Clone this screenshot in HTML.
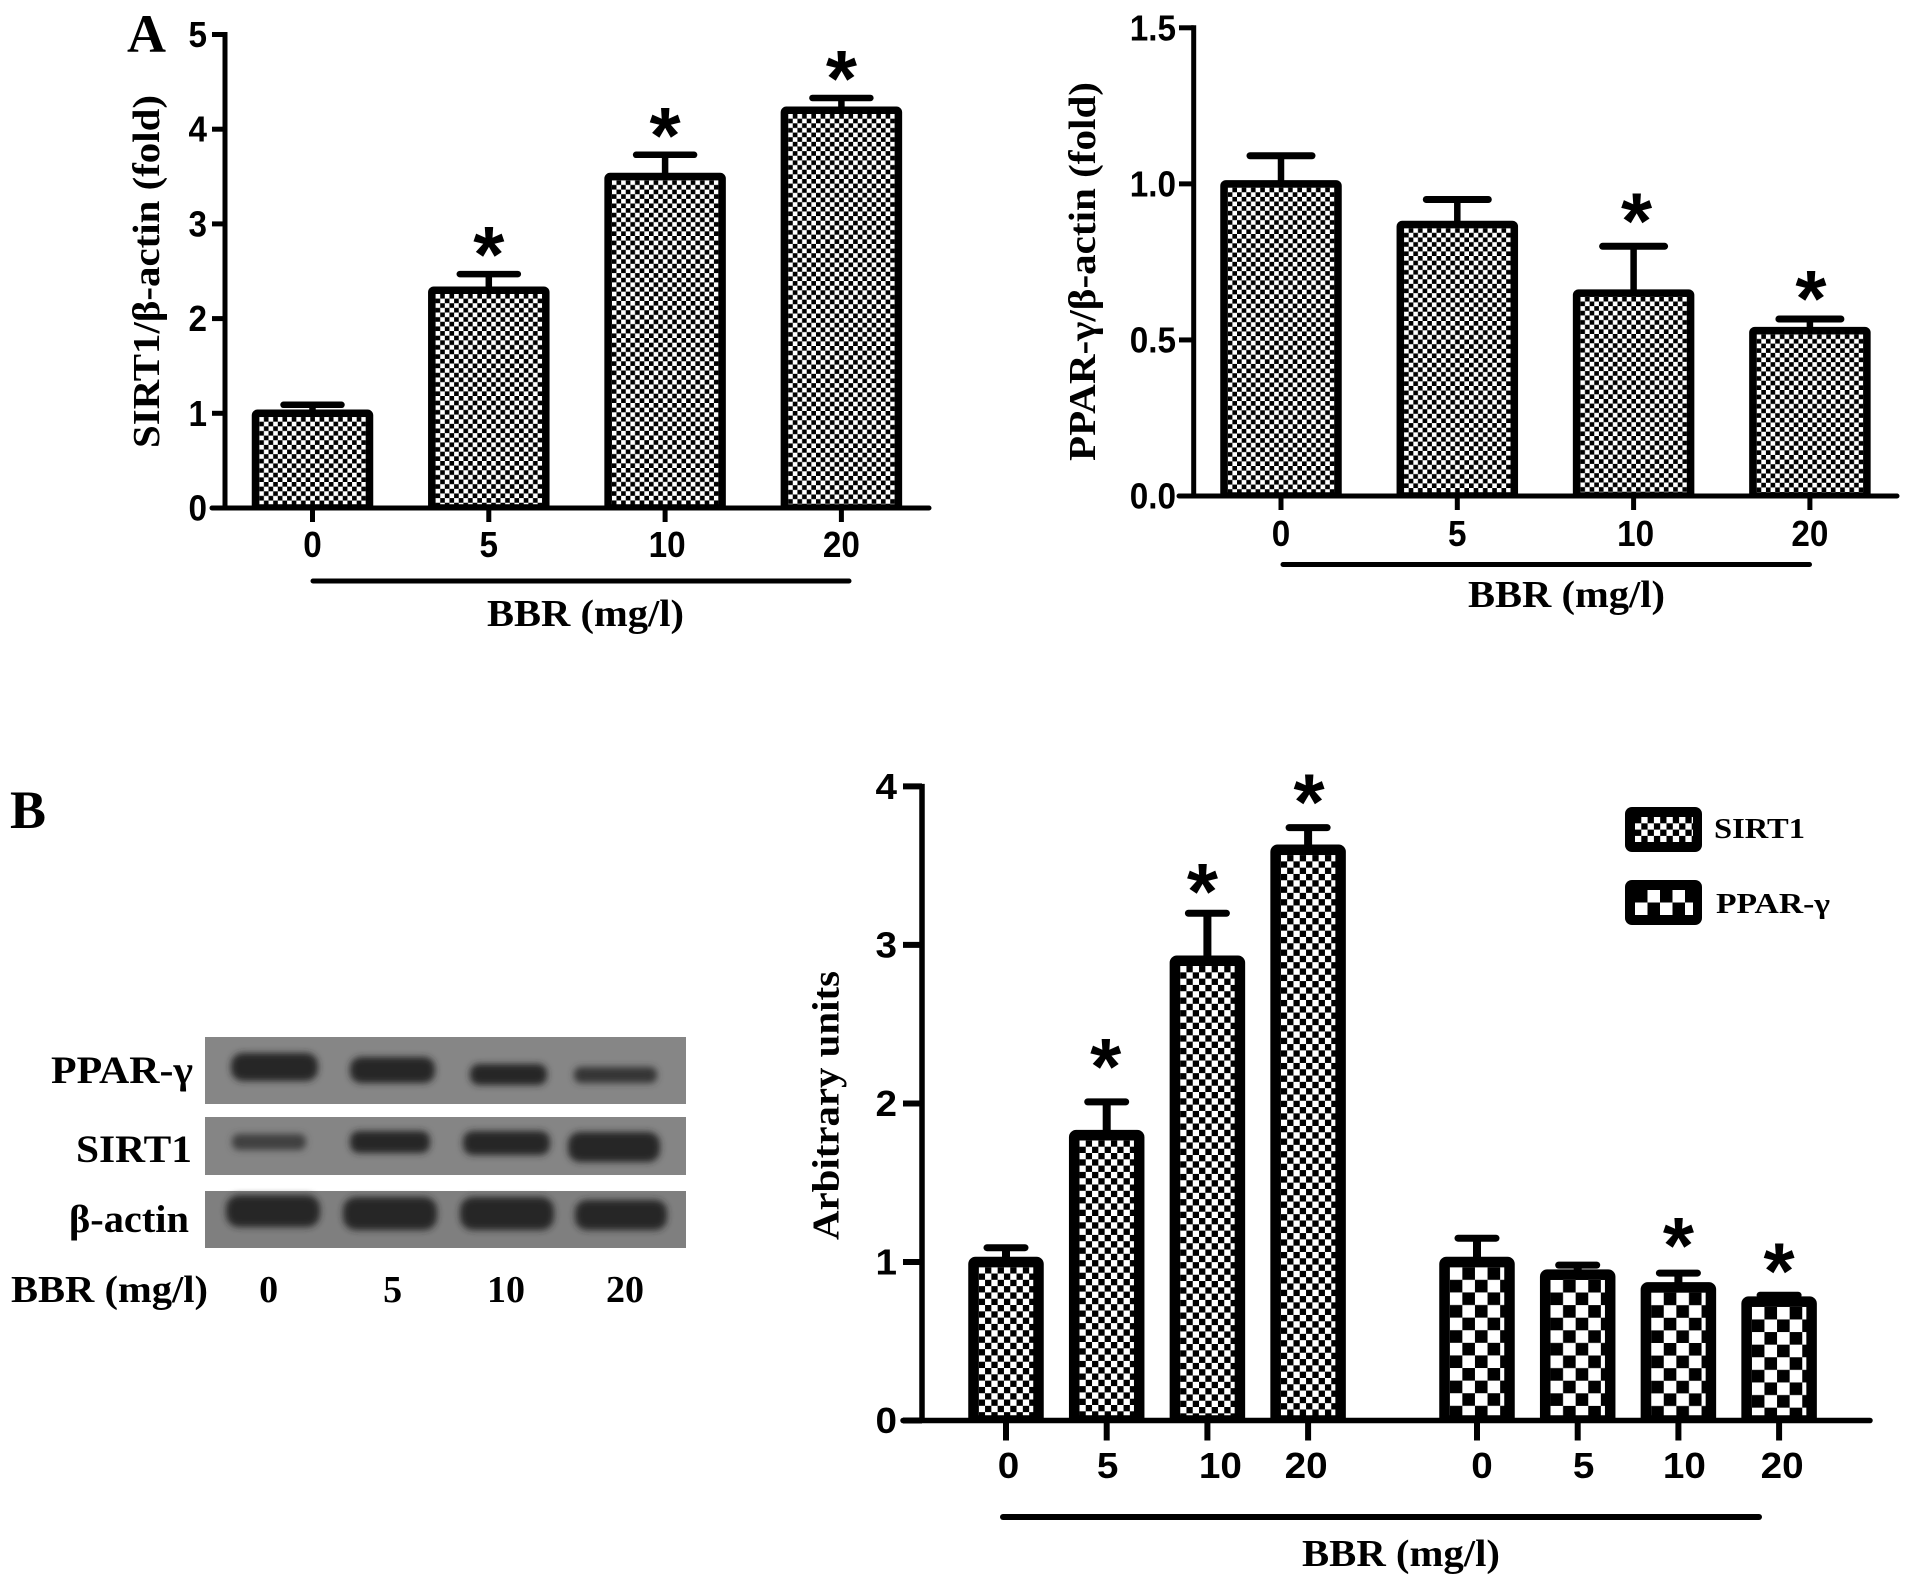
<!DOCTYPE html>
<html lang="en">
<head>
<meta charset="utf-8">
<title>SIRT1 and PPAR-γ expression after BBR treatment</title>
<style>
html,body{margin:0;padding:0;background:#fff;}
svg{display:block;}
.serif{font-family:"Liberation Serif","Noto Serif CJK SC",serif;font-weight:bold;fill:#000;}
.sans{font-family:"Liberation Sans","DejaVu Sans",sans-serif;font-weight:bold;fill:#000;}
</style>
</head>
<body>
<svg id="figure" xmlns="http://www.w3.org/2000/svg" width="1913" height="1588" viewBox="0 0 1913 1588">
  <defs id="figure-defs">
    <filter id="band-blur" x="-30%" y="-60%" width="160%" height="220%"><feGaussianBlur stdDeviation="3.4"/></filter>
    <pattern id="legend-fine" patternUnits="userSpaceOnUse" x="1635" y="817" width="12.6" height="12.6">
      <rect width="12.6" height="12.6" fill="#fff"/>
      <rect width="6.3" height="6.3" fill="#000"/>
      <rect x="6.3" y="6.3" width="6.3" height="6.3" fill="#000"/>
    </pattern>
    <pattern id="legend-coarse" patternUnits="userSpaceOnUse" x="1635" y="890" width="25" height="25">
      <rect width="25" height="25" fill="#fff"/>
      <rect width="12.5" height="12.5" fill="#000"/>
      <rect x="12.5" y="12.5" width="12.5" height="12.5" fill="#000"/>
    </pattern>
  </defs>

  <text class="serif" x="127" y="52" font-size="54">A</text>
  <text class="serif" x="10" y="828" font-size="54">B</text>

  <text class="serif" transform="translate(159,271.5) rotate(-90)" text-anchor="middle" font-size="38" textLength="353" lengthAdjust="spacingAndGlyphs">SIRT1/β-actin (fold)</text>
  <text class="serif" x="487" y="626" font-size="38" textLength="197" lengthAdjust="spacingAndGlyphs">BBR (mg/l)</text>

  <text class="serif" transform="translate(1095,271.5) rotate(-90)" text-anchor="middle" font-size="38" textLength="379" lengthAdjust="spacingAndGlyphs">PPAR-γ/β-actin (fold)</text>
  <text class="serif" x="1468" y="607" font-size="38" textLength="197" lengthAdjust="spacingAndGlyphs">BBR (mg/l)</text>

  <text class="serif" transform="translate(838.5,1105.5) rotate(-90)" text-anchor="middle" font-size="38" textLength="269" lengthAdjust="spacingAndGlyphs">Arbitrary units</text>
  <text class="serif" x="1302" y="1566" font-size="38" textLength="198" lengthAdjust="spacingAndGlyphs">BBR (mg/l)</text>

  <g>
    <g>
      <rect x="1625" y="807" width="77" height="45" rx="7" fill="#000"/>
      <rect x="1635" y="817" width="58" height="25" fill="url(#legend-fine)"/>
      <text class="serif" x="1714" y="838" font-size="29" textLength="91" lengthAdjust="spacingAndGlyphs">SIRT1</text>
    </g>
    <g>
      <rect x="1625" y="880" width="77" height="45" rx="7" fill="#000"/>
      <rect x="1635" y="890" width="58" height="25" fill="url(#legend-coarse)"/>
      <text class="serif" x="1716" y="913" font-size="29" textLength="114" lengthAdjust="spacingAndGlyphs">PPAR-γ</text>
    </g>
  </g>

  <g>
    <rect x="205" y="1037" width="481" height="67" fill="#868686"/>
    <rect x="205" y="1117" width="481" height="58" fill="#858585"/>
    <rect x="205" y="1191" width="481" height="57" fill="#7f7f7f"/>
    <g filter="url(#band-blur)" fill="#262626">
      <rect x="231" y="1053" width="87" height="28" rx="12"/>
      <rect x="350" y="1057" width="85" height="26" rx="11"/>
      <rect x="470" y="1064" width="77" height="21" rx="9"/>
      <rect x="574" y="1067" width="83" height="16" rx="7" fill="#363636"/>
      <rect x="232" y="1134" width="74" height="16" rx="7" fill="#3f3f3f"/>
      <rect x="350" y="1131" width="80" height="22" rx="9"/>
      <rect x="463" y="1131" width="87" height="24" rx="10"/>
      <rect x="568" y="1132" width="92" height="30" rx="12"/>
      <rect x="226" y="1195" width="94" height="32" rx="13"/>
      <rect x="343" y="1197" width="94" height="33" rx="13"/>
      <rect x="460" y="1197" width="94" height="33" rx="13"/>
      <rect x="575" y="1200" width="92" height="30" rx="12"/>
    </g>
    <text class="serif" x="51" y="1083" font-size="39" textLength="142" lengthAdjust="spacingAndGlyphs">PPAR-γ</text>
    <text class="serif" x="76" y="1162" font-size="39" textLength="116" lengthAdjust="spacingAndGlyphs">SIRT1</text>
    <text class="serif" x="69" y="1232" font-size="39" textLength="120" lengthAdjust="spacingAndGlyphs">β-actin</text>
    <text class="serif" x="11" y="1302" font-size="38" textLength="197" lengthAdjust="spacingAndGlyphs">BBR (mg/l)</text>
    <text class="serif" x="268.6" y="1302" font-size="38" text-anchor="middle">0</text>
    <text class="serif" x="392.6" y="1302" font-size="38" text-anchor="middle">5</text>
    <text class="serif" x="506" y="1302" font-size="38" text-anchor="middle">10</text>
    <text class="serif" x="625" y="1302" font-size="38" text-anchor="middle">20</text>
  </g>

  <g id="charts"></g>
</svg>

<script>
// ---- chart data ----
const doseCategories = ['0', '5', '10', '20'];

const sirt1FoldValues = [1.0, 2.3, 3.5, 4.2];
const sirt1FoldUpper = [1.09, 2.47, 3.73, 4.33];
const sirt1FoldStars = [false, true, true, true];
const sirt1FoldTickValues = [0, 1, 2, 3, 4, 5];
const sirt1FoldTickLabels = ['0', '1', '2', '3', '4', '5'];

const pparFoldValues = [1.0, 0.87, 0.65, 0.53];
const pparFoldUpper = [1.09, 0.95, 0.80, 0.567];
const pparFoldStars = [false, false, true, true];
const pparFoldTickValues = [0, 0.5, 1, 1.5];
const pparFoldTickLabels = ['0.0', '0.5', '1.0', '1.5'];

const arbitrarySirt1Values = [1.0, 1.8, 2.9, 3.6];
const arbitrarySirt1Upper = [1.09, 2.01, 3.2, 3.74];
const arbitrarySirt1Stars = [false, true, true, true];
const arbitraryPparValues = [1.0, 0.92, 0.84, 0.75];
const arbitraryPparUpper = [1.15, 0.98, 0.93, 0.79];
const arbitraryPparStars = [false, false, true, true];
const arbitraryTickValues = [0, 1, 2, 3, 4];
const arbitraryTickLabels = ['0', '1', '2', '3', '4'];

// ---- layout ----
const NS = 'http://www.w3.org/2000/svg';
const root = document.getElementById('charts');
const defs = document.getElementById('figure-defs');

function make(tag, parent, attrs) {
  const node = document.createElementNS(NS, tag);
  for (const key in attrs) node.setAttribute(key, attrs[key]);
  parent.appendChild(node);
  return node;
}

let patternCount = 0;
function barPattern(originX, originY, cell) {
  const id = 'bar-fill-' + (++patternCount);
  const pattern = make('pattern', defs, {id: id, patternUnits: 'userSpaceOnUse', x: originX, y: originY, width: cell * 2, height: cell * 2});
  make('rect', pattern, {width: cell * 2, height: cell * 2, fill: '#fff'});
  make('rect', pattern, {x: cell, y: 0, width: cell, height: cell, fill: '#000'});
  make('rect', pattern, {x: 0, y: cell, width: cell, height: cell, fill: '#000'});
  return 'url(#' + id + ')';
}

function labelWidth(text, digitWidth) {
  let units = 0;
  for (const ch of text) units += ch === '.' ? 0.5 : 1;
  return units * digitWidth;
}

function drawPanel(panel) {
  const group = make('g', root, {});
  
  

  const clipId = panel.name + '-plot-clip';
  const clip = make('clipPath', defs, {id: clipId});
  make('rect', clip, {x: 0, y: 0, width: 1913, height: panel.y0 + 1});

  const yScale = v => panel.y0 - (v - panel.yMin) * (panel.y0 - panel.yTop) / (panel.yMax - panel.yMin);

  panel.series.forEach(series => {
    const xScale = i => series.start + i * panel.step;
    doseCategories.forEach((cat, i) => {
      const cx = xScale(i);
      const top = yScale(series.values[i]);
      const cap = yScale(series.upper[i]);

      const stem = make('line', group, {x1: cx, x2: cx, y1: top, y2: cap, stroke: '#000', 'stroke-width': panel.stemWidth});
      
      

      const capLine = make('line', group, {x1: cx - panel.capHalf, x2: cx + panel.capHalf, y1: cap, y2: cap, stroke: '#000', 'stroke-width': panel.capThick, 'stroke-linecap': 'round'});
      
      

      const left = cx - panel.barWidth / 2;
      const fill = barPattern(left + panel.barStroke / 2, top + panel.barStroke / 2, series.cell);
      const bar = make('rect', group, {x: left, y: top, width: panel.barWidth, height: panel.y0 - top, rx: 2, fill: fill, stroke: '#000', 'stroke-width': panel.barStroke, 'stroke-linejoin': 'round', 'clip-path': 'url(#' + clipId + ')'});
      
      

      if (series.stars[i]) {
        const star = make('text', group, {x: cx + series.starShiftX[i], y: cap - series.starGap[i] + 46, class: 'sans', 'font-size': 80, 'text-anchor': 'middle'});
        star.textContent = '*';
        
        
      }

      const tick = make('line', group, {x1: cx, x2: cx, y1: panel.y0, y2: panel.y0 + panel.xTickLen, stroke: '#000', 'stroke-width': panel.tickWidth});
      
      

      const label = make('text', group, {x: cx + series.labelNudge[i], y: panel.xLabelY, class: 'sans', 'font-size': 36, 'text-anchor': 'middle', textLength: labelWidth(cat, panel.digitWidth), lengthAdjust: 'spacingAndGlyphs'});
      label.textContent = cat;
      
      
    });
  });

  const yAxis = make('line', group, {x1: panel.axisX, x2: panel.axisX, y1: yScale(panel.yMax) - 2.5, y2: panel.y0 + 2.5, stroke: '#000', 'stroke-width': panel.axisWidth});
  
  

  const xAxis = make('line', group, {x1: panel.tickLeft, x2: panel.axisRight, y1: panel.y0, y2: panel.y0, stroke: '#000', 'stroke-width': panel.axisWidth, 'stroke-linecap': 'round'});
  
  

  panel.tickValues.forEach((value, i) => {
    const y = yScale(value);
    const tick = make('line', group, {x1: panel.tickLeft, x2: panel.axisX, y1: y, y2: y, stroke: '#000', 'stroke-width': panel.tickWidth});
    
    

    const label = make('text', group, {x: panel.yLabelRight, y: y + 12.5, class: 'sans', 'font-size': 36, 'text-anchor': 'end', textLength: labelWidth(panel.tickLabels[i], panel.digitWidth), lengthAdjust: 'spacingAndGlyphs'});
    label.textContent = panel.tickLabels[i];
    
    
  });

  const rule = make('line', group, {x1: panel.ruleLeft, x2: panel.ruleRight, y1: panel.ruleY, y2: panel.ruleY, stroke: '#000', 'stroke-width': panel.ruleWidth, 'stroke-linecap': 'round'});
  
  
}

drawPanel({
  name: 'sirt1-fold',
  y0: 508, yTop: 34.5, yMin: 0, yMax: 5,
  tickValues: sirt1FoldTickValues, tickLabels: sirt1FoldTickLabels,
  axisX: 225, axisRight: 929, tickLeft: 212, yLabelRight: 207,
  axisWidth: 5, tickWidth: 5, xTickLen: 14, xLabelY: 557, digitWidth: 18.5,
  step: 176.3, barWidth: 114, barStroke: 7.5, stemWidth: 6.5, capHalf: 29, capThick: 6.5,
  ruleLeft: 313, ruleRight: 849, ruleY: 581, ruleWidth: 5,
  series: [{name: 'sirt1-fold', start: 312.5, cell: 4.64, values: sirt1FoldValues, upper: sirt1FoldUpper, stars: sirt1FoldStars, starGap: [0, 38, 38, 38], starShiftX: [0, 0, 0, 0], labelNudge: [0, 0, 2, 0]}]
});

drawPanel({
  name: 'ppar-fold',
  y0: 496, yTop: 27.8, yMin: 0, yMax: 1.5,
  tickValues: pparFoldTickValues, tickLabels: pparFoldTickLabels,
  axisX: 1193.7, axisRight: 1897, tickLeft: 1179, yLabelRight: 1176,
  axisWidth: 5, tickWidth: 5, xTickLen: 14, xLabelY: 546, digitWidth: 18.5,
  step: 176.3, barWidth: 114, barStroke: 7.5, stemWidth: 6.5, capHalf: 31, capThick: 7,
  ruleLeft: 1283, ruleRight: 1809.5, ruleY: 564.5, ruleWidth: 5,
  series: [{name: 'ppar-fold', start: 1281, cell: 4.64, values: pparFoldValues, upper: pparFoldUpper, stars: pparFoldStars, starGap: [0, 0, 44, 39], starShiftX: [0, 0, 3, 1], labelNudge: [0, 0, 2, 0]}]
});

drawPanel({
  name: 'arbitrary-units',
  y0: 1420.5, yTop: 786.4, yMin: 0, yMax: 4,
  tickValues: arbitraryTickValues, tickLabels: arbitraryTickLabels,
  axisX: 922, axisRight: 1870, tickLeft: 903, yLabelRight: 897,
  axisWidth: 5.5, tickWidth: 6, xTickLen: 20, xLabelY: 1478, digitWidth: 21.5,
  step: 100.7, barWidth: 65, barStroke: 10.5, stemWidth: 8, capHalf: 19, capThick: 7,
  ruleLeft: 1003, ruleRight: 1759, ruleY: 1517, ruleWidth: 6,
  series: [
    {name: 'arbitrary-sirt1', start: 1006, cell: 6.3, values: arbitrarySirt1Values, upper: arbitrarySirt1Upper, stars: arbitrarySirt1Stars, starGap: [0, 54, 40, 44], starShiftX: [0, -1, -5, 1], labelNudge: [2.5, 1, 13, -2]},
    {name: 'arbitrary-ppar', start: 1477, cell: 12.6, values: arbitraryPparValues, upper: arbitraryPparUpper, stars: arbitraryPparStars, starGap: [0, 0, 46, 43], starShiftX: [0, 0, 0, 0], labelNudge: [5, 6, 6, 3]}
  ]
});
</script>
</body>
</html>
